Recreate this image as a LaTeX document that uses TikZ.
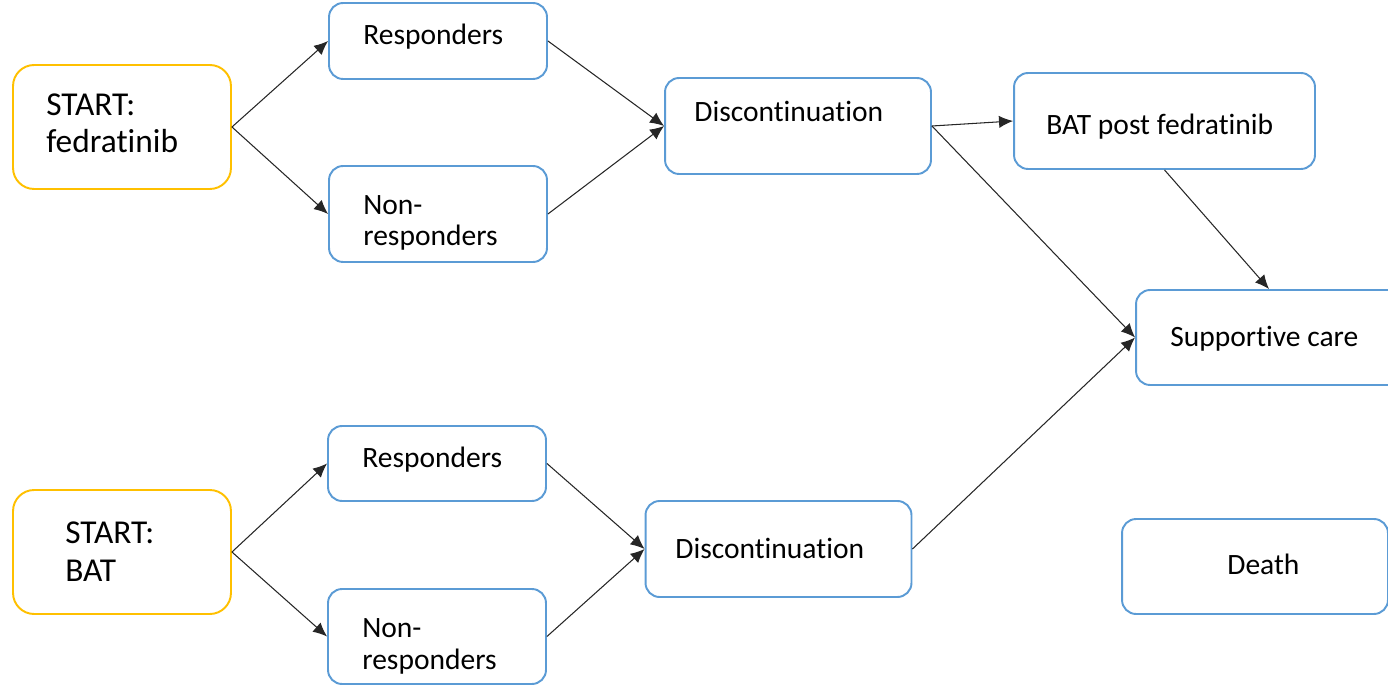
\documentclass[tikz,border=0pt]{standalone}
\usepackage{fontspec}
\setmainfont{Carlito}[Ligatures=CommonOff]
\usetikzlibrary{arrows.meta}
\definecolor{boxblue}{HTML}{5B9BD5}
\definecolor{startyellow}{HTML}{FFC000}
\begin{document}
\begin{tikzpicture}[
  x=0.02cm, y=-0.02cm,
  >={Latex[length=8pt,width=7pt]},
  box/.style={draw=boxblue, line width=1.1pt, rounded corners=8pt, fill=white, inner sep=0pt},
  startbox/.style={draw=startyellow, line width=1.1pt, rounded corners=12pt, fill=white, inner sep=0pt, minimum width=4.36cm, minimum height=2.48cm},
  small/.style={box, minimum width=4.36cm},
  wide/.style={box, minimum width=5.32cm, minimum height=1.92cm},
  lbl/.style={inner sep=0pt, anchor=base west, align=left, font=\fontsize{16.8}{18.2}\selectfont},
  biglbl/.style={lbl, font=\fontsize{19}{21.5}\selectfont},
  flow/.style={->, draw=black!85, line width=0.6pt}
]
  \useasboundingbox (0,0) rectangle (1388,685);
  \clip (0,0) rectangle (1388,685);

  \node[startbox] (fed) at (122,127) {};
  \node[small, minimum height=1.52cm] (resp1) at (438,41) {};
  \node[small, minimum height=1.92cm] (non1) at (438,214) {};
  \node[wide] (disc1) at (798,126) {};
  \node[box, minimum width=6.02cm, minimum height=1.92cm] (batpost) at (1164.5,121) {};
  \node[wide, minimum height=1.9cm] (supp) at (1269,337.5) {};

  \node[startbox] (bat) at (122,552) {};
  \node[small, minimum height=1.5cm] (resp2) at (437,463.5) {};
  \node[small, minimum height=1.9cm] (non2) at (437,636.5) {};
  \node[wide] (disc2) at (778.5,549) {};
  \node[wide, minimum height=1.9cm] (death) at (1255,566.5) {};

  \node[biglbl] (fedtxt) at (46,153) {START:\\fedratinib};
  \node[lbl] (resp1txt) at (363,45) {Responders};
  \node[lbl] (non1txt) at (363,246) {Non-\\responders};
  \node[lbl] (disc1txt) at (694,122) {Discontinuation};
  \node[lbl] (batposttxt) at (1046,135) {BAT post fedratinib};
  \node[lbl] (supptxt) at (1170,347) {Supportive care};
  \node[biglbl] (battxt) at (65,581) {START:\\BAT};
  \node[lbl] (resp2txt) at (362,467) {Responders};
  \node[lbl] (non2txt) at (362,669) {Non-\\responders};
  \node[lbl] (disc2txt) at (675,558) {Discontinuation};
  \node[lbl] (deathtxt) at (1227,574) {Death};

  \draw[flow] (fed.east) -- (resp1.west);
  \draw[flow] (fed.east) -- (non1.west);
  \draw[flow] (resp1.east) -- (disc1.west);
  \draw[flow] (non1.east) -- (disc1.west);
  \draw[flow] (disc1.east) -- (batpost.west);
  \draw[flow] (disc1.east) -- (supp.west);
  \draw[flow] (batpost.south) -- (supp.north);

  \draw[flow] (bat.east) -- (resp2.west);
  \draw[flow] (bat.east) -- (non2.west);
  \draw[flow] (resp2.east) -- (disc2.west);
  \draw[flow] (non2.east) -- (disc2.west);
  \draw[flow] (disc2.east) -- (supp.west);
\end{tikzpicture}
\end{document}
